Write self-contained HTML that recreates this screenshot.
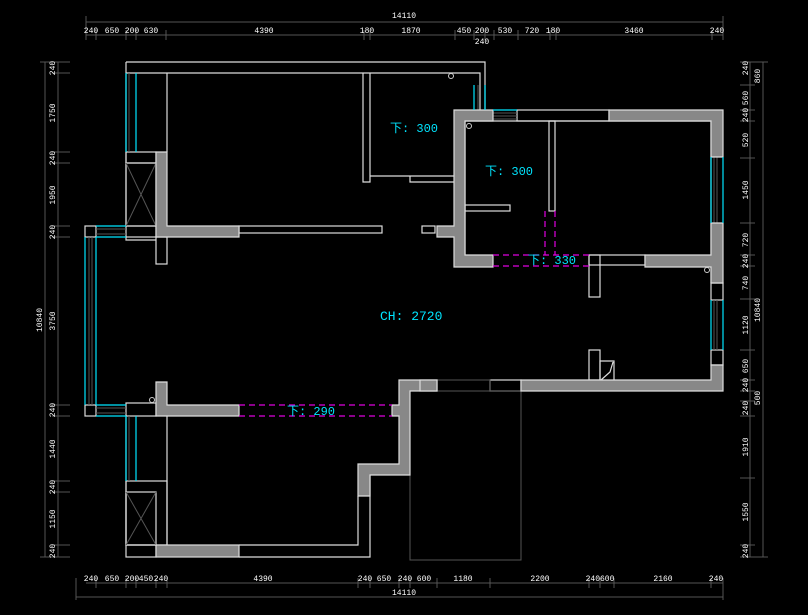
<!DOCTYPE html>
<html><head><meta charset="utf-8"><style>
html,body{margin:0;padding:0;background:#000;}
svg{display:block}
text{font-family:"Liberation Mono","Noto Sans CJK SC",monospace;}
.d{fill:#fff;font-size:8px;text-anchor:middle}
.c{fill:#00e5ff;font-size:12px}
</style></head><body>
<svg width="808" height="615" viewBox="0 0 808 615" xmlns="http://www.w3.org/2000/svg">
<rect width="808" height="615" fill="#000"/>
<g stroke="#555" stroke-width="1" fill="none">
<line x1="86" y1="22" x2="723" y2="22"/>
<line x1="86" y1="35" x2="723" y2="35"/>
<line x1="86" y1="16" x2="86" y2="40"/><line x1="723" y1="16" x2="723" y2="40"/>
<path d="M96 30V40M126 30V40M136 30V40M166 30V40M364 30V40M370 30V40M455 30V40M474 30V40M485 30V40M494 30V40M518 30V40M550 30V40M556 30V40M712 30V40"/>
<line x1="86" y1="583" x2="723" y2="583"/>
<line x1="76" y1="597" x2="723" y2="597"/>
<line x1="76" y1="578" x2="76" y2="600"/><line x1="723" y1="578" x2="723" y2="600"/>
<path d="M96 578V588M126 578V588M136 578V588M156 578V588M167 578V588M358 578V588M370 578V588M399 578V588M410 578V588M437 578V588M490 578V588M589 578V588M600 578V588M614 578V588M711 578V588"/>
<line x1="58" y1="62" x2="58" y2="557"/>
<line x1="45" y1="62" x2="45" y2="557"/>
<path d="M40 62H70M40 557H70M52 73H70M52 152H70M52 163H70M52 226H70M52 237H70M52 405H70M52 416H70M52 481H70M52 492H70M52 545H70"/>
<line x1="750" y1="62" x2="750" y2="557"/>
<line x1="763" y1="62" x2="763" y2="557"/>
<path d="M740 62H768M740 557H768M740 85H755M740 110H755M740 121H755M740 158H755M740 223H755M740 255H755M740 266H755M740 299H755M740 350H755M740 380H755M740 391H755M740 401H755M740 416H755M740 478H755M740 545H755"/>
</g>
<g class="d">
<text x="404" y="18">14110</text>
<text x="91" y="33">240</text><text x="112" y="33">650</text><text x="132" y="33">200</text><text x="151" y="33">630</text><text x="264" y="33">4390</text><text x="367" y="33">180</text><text x="411" y="33">1870</text><text x="464" y="33">450</text><text x="482" y="33">200</text><text x="505" y="33">530</text><text x="532" y="33">720</text><text x="553" y="33">180</text><text x="634" y="33">3460</text><text x="717" y="33">240</text><text x="482" y="44">240</text>
<text x="91" y="581">240</text><text x="112" y="581">650</text><text x="132" y="581">200</text><text x="146" y="581">450</text><text x="161" y="581">240</text><text x="263" y="581">4390</text><text x="365" y="581">240</text><text x="384" y="581">650</text><text x="405" y="581">240</text><text x="424" y="581">600</text><text x="463" y="581">1180</text><text x="540" y="581">2200</text><text x="600" y="581">240600</text><text x="663" y="581">2160</text><text x="716" y="581">240</text>
<text x="404" y="595">14110</text>
</g>
<g class="d">
<text transform="translate(55,68) rotate(-90)">240</text>
<text transform="translate(55,113) rotate(-90)">1750</text>
<text transform="translate(55,158) rotate(-90)">240</text>
<text transform="translate(55,195) rotate(-90)">1950</text>
<text transform="translate(55,232) rotate(-90)">240</text>
<text transform="translate(55,321) rotate(-90)">3750</text>
<text transform="translate(55,410) rotate(-90)">240</text>
<text transform="translate(55,449) rotate(-90)">1440</text>
<text transform="translate(55,487) rotate(-90)">240</text>
<text transform="translate(55,519) rotate(-90)">1150</text>
<text transform="translate(55,551) rotate(-90)">240</text>
<text transform="translate(42,320) rotate(-90)">10840</text>
<text transform="translate(748,68) rotate(-90)">240</text>
<text transform="translate(748,98) rotate(-90)">560</text>
<text transform="translate(748,115) rotate(-90)">240</text>
<text transform="translate(748,140) rotate(-90)">520</text>
<text transform="translate(748,190) rotate(-90)">1450</text>
<text transform="translate(748,240) rotate(-90)">720</text>
<text transform="translate(748,261) rotate(-90)">240</text>
<text transform="translate(748,283) rotate(-90)">740</text>
<text transform="translate(748,325) rotate(-90)">1120</text>
<text transform="translate(748,366) rotate(-90)">650</text>
<text transform="translate(748,385) rotate(-90)">240</text>
<text transform="translate(748,408) rotate(-90)">240</text>
<text transform="translate(748,447) rotate(-90)">1910</text>
<text transform="translate(748,512) rotate(-90)">1550</text>
<text transform="translate(748,551) rotate(-90)">240</text>
<text transform="translate(760,76) rotate(-90)">860</text>
<text transform="translate(760,310) rotate(-90)">10840</text>
<text transform="translate(760,398) rotate(-90)">500</text>
</g>
<g stroke="#ddd" stroke-width="1.2" fill="none">
<path d="M126 62H485V110M126 73H480V110M126 62V226"/>
<path d="M167 73V152"/>
<path d="M363 73V182H370V176H455M370 73V176M410 176V182H455"/>
<rect x="126" y="152" width="30" height="11"/>
<rect x="126" y="163" width="30" height="63"/>
<rect x="85" y="226" width="11" height="11"/>
<rect x="126" y="226" width="30" height="11"/>
<path d="M126 237V240H156"/>
<rect x="156" y="237" width="11" height="27"/>
<rect x="239" y="226" width="143" height="7"/>
<rect x="422" y="226" width="13" height="7"/>
<rect x="85" y="405" width="11" height="11"/>
<rect x="126" y="403" width="30" height="13"/>
<path d="M126 416V545M167 416V545"/>
<rect x="126" y="481" width="41" height="64"/>
<rect x="126" y="492" width="30" height="53"/>
<rect x="126" y="545" width="30" height="12"/>
<path d="M239 545H358V496M239 557H370V475"/>
<path d="M465 121V255M465 121H711V255"/>
<rect x="549" y="121" width="6" height="90"/>
<rect x="465" y="205" width="45" height="6"/>
<rect x="589" y="255" width="56" height="10"/>
<rect x="589" y="255" width="11" height="42"/>
<rect x="589" y="350" width="11" height="30"/>
<path d="M600 380V361H614V380M601 380L610 372L613 362"/>
<path d="M711 267V283"/>
<rect x="517" y="110" width="92" height="11"/>
<rect x="490" y="380" width="31" height="11"/>
<rect x="711" y="283" width="12" height="17"/>
<rect x="711" y="350" width="12" height="15"/>
</g>
<g stroke="#555" stroke-width="1" fill="none">
<path d="M126 163L156 226M156 163L126 226M126 492L156 545M156 492L126 545"/>
<rect x="410" y="391" width="111" height="169"/>
<rect x="437" y="380" width="53" height="11"/>
<path d="M96 229H126M96 234H126M96 408H126M96 413H126M89 237V405M92 237V405M129 73V152M129 416V481"/>
<path d="M493 113H517M493 116H517M493 119H517M714 157V223M717 157V223M714 300V350M717 300V350M474 85V110M478 85V110"/>
</g>
<g fill="#888" stroke="#ddd" stroke-width="1.2">
<path d="M156 152H167V226H239V237H156Z"/>
<path d="M156 382H167V405H239V416H156Z"/>
<rect x="156" y="545" width="83" height="12"/>
<path d="M399 380H437V391H410V475H370V496H358V464H399V416H392V405H399Z"/>
<path d="M454 110H493V121H465V255H493V267H454V237H437V226H454Z"/>
<path d="M609 110H723V157H711V121H609Z"/>
<path d="M711 223H723V283H711V267H645V255H711Z"/>
<path d="M711 365H723V391H521V380H711Z"/>
<rect x="420" y="380" width="17" height="11"/>
</g>
<g stroke="#00e5ff" stroke-width="1.2" fill="none">
<path d="M126 73V152M136 73V152"/>
<path d="M96 226H126M96 237H126M85 237V405M96 237V405M96 405H126M96 416H126"/>
<path d="M126 416V481M136 416V481"/>
<path d="M474 85V110M485 85V110M493 110H517"/>
<path d="M711 157V223M723 157V223M711 300V350M723 300V350"/>
</g>
<g stroke="#e000e0" stroke-width="1.2" fill="none" stroke-dasharray="6,4">
<path d="M239 405H392M239 416H392"/>
<path d="M493 255H589M493 266H589"/>
<path d="M545 211V255M555 211V255"/>
</g>
<g stroke="#ccc" fill="none"><circle cx="451" cy="76" r="2.5"/><circle cx="469" cy="126" r="2.5"/><circle cx="707" cy="270" r="2.5"/><circle cx="152" cy="400" r="2.5"/></g>
<text class="c" x="390" y="132">下: 300</text>
<text class="c" x="485" y="175">下: 300</text>
<text class="c" x="528" y="264">下: 330</text>
<text class="c" x="287" y="415">下: 290</text>
<text class="c" x="380" y="320" style="font-size:13px">CH: 2720</text>
</svg>
</body></html>
